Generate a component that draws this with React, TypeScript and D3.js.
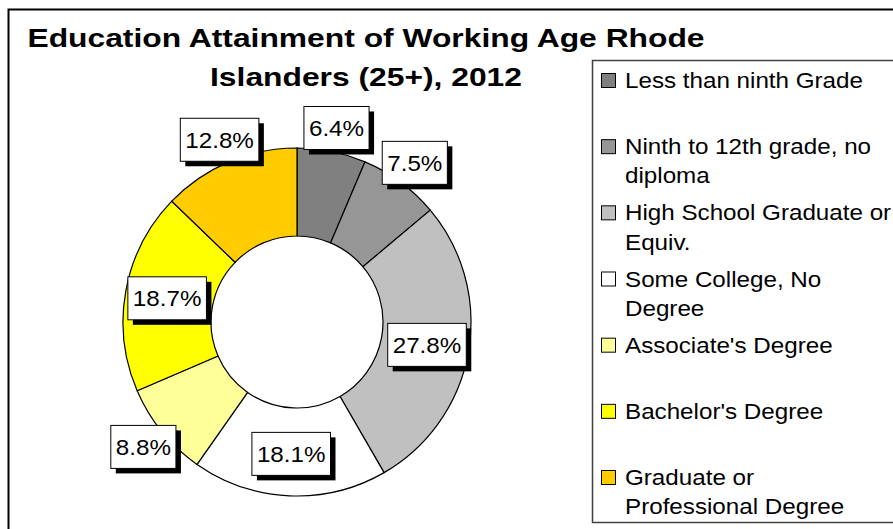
import { useRef, useEffect } from "react";
import * as d3 from "d3";

const categories = [
  "Less than ninth Grade",
  "Ninth to 12th grade, no diploma",
  "High School Graduate or Equiv.",
  "Some College, No Degree",
  "Associate's Degree",
  "Bachelor's Degree",
  "Graduate or Professional Degree",
];
const values = [6.4, 7.5, 27.8, 18.1, 8.8, 18.7, 12.8];
const colors = ["#808080", "#969696", "#C0C0C0", "#FFFFFF", "#FFFF99", "#FFFF00", "#FFCC00"];
const legendLines = [
  ["Less than ninth Grade"],
  ["Ninth to 12th grade, no", "diploma"],
  ["High School Graduate or", "Equiv."],
  ["Some College, No", "Degree"],
  ["Associate's Degree"],
  ["Bachelor's Degree"],
  ["Graduate or", "Professional Degree"],
];
const titleLines = ["Education Attainment of Working Age Rhode", "Islanders (25+), 2012"];

const FONT = "'Liberation Sans', Arial, sans-serif";
const SX = 1.1; // the original text is rendered a bit wide

export default function App() {
  const ref = useRef<SVGSVGElement | null>(null);

  useEffect(() => {
    const svg = d3.select(ref.current);
    svg.selectAll("*").remove();

    const width = 893;
    const height = 529;
    const cx = 297;
    const cy = 322;
    const outerR = 174;
    const innerR = 86;

    svg.append("rect").attr("width", width).attr("height", height).attr("fill", "#fff");

    // outer frame
    svg
      .append("rect")
      .attr("x", 8.5)
      .attr("y", 9.5)
      .attr("width", 900)
      .attr("height", 540)
      .attr("fill", "none")
      .attr("stroke", "#000")
      .attr("stroke-width", 2);

    // title
    titleLines.forEach((t, i) => {
      svg
        .append("text")
        .attr("transform", `translate(366,${i === 0 ? 47 : 86}) scale(1.2,1)`)
        .attr("text-anchor", "middle")
        .attr("font-family", FONT)
        .attr("font-weight", "bold")
        .attr("font-size", 26.5)
        .attr("fill", "#000")
        .text(t);
    });

    // donut
    const pie = d3
      .pie<number>()
      .sort(null)
      .value((d) => d);
    const arcs = pie(values);
    const arc = d3.arc<d3.PieArcDatum<number>>().innerRadius(innerR).outerRadius(outerR);

    const g = svg.append("g").attr("transform", `translate(${cx},${cy})`);
    g.selectAll("path")
      .data(arcs)
      .join("path")
      .attr("d", arc)
      .attr("fill", (_, i) => colors[i])
      .attr("stroke", "#000")
      .attr("stroke-width", 1.2);

    // data labels: big slices inside the ring, small ones just outside
    const fmt = d3.format(".1f");
    const labelR = (v: number) => (v >= 15 ? (innerR + outerR) / 2 + 2 : outerR + 24);
    arcs.forEach((a) => {
      const mid = (a.startAngle + a.endAngle) / 2;
      const r = labelR(a.data);
      const lx = Math.sin(mid) * r;
      const ly = -Math.cos(mid) * r;
      const lg = g.append("g").attr("transform", `translate(${lx},${ly})`);
      const shadow = lg.append("rect").attr("fill", "#000");
      const box = lg.append("rect").attr("fill", "#fff").attr("stroke", "#000").attr("stroke-width", 1);
      const txt = lg
        .append("text")
        .attr("transform", `scale(${SX},1)`)
        .attr("text-anchor", "middle")
        .attr("y", 8)
        .attr("font-family", FONT)
        .attr("font-size", 22)
        .attr("fill", "#000")
        .text(fmt(a.data) + "%");
      const tw = (txt.node() as SVGTextElement).getComputedTextLength() * SX;
      const bw = tw + 10;
      const bh = 43;
      box.attr("x", -bw / 2).attr("y", -bh / 2).attr("width", bw).attr("height", bh);
      shadow
        .attr("x", -bw / 2 + 5)
        .attr("y", -bh / 2 + 5)
        .attr("width", bw)
        .attr("height", bh);
      txt.raise();
    });

    // legend
    svg
      .append("rect")
      .attr("x", 592.5)
      .attr("y", 60.5)
      .attr("width", 320)
      .attr("height", 462)
      .attr("fill", "#fff")
      .attr("stroke", "#404040")
      .attr("stroke-width", 1.5);

    const ly = d3.scalePoint<string>().domain(categories).range([88, 485]);
    categories.forEach((c, i) => {
      const y = ly(c)!;
      svg
        .append("rect")
        .attr("x", 601.5)
        .attr("y", y - 14.5)
        .attr("width", 14)
        .attr("height", 14)
        .attr("fill", colors[i])
        .attr("stroke", "#000")
        .attr("stroke-width", 1);
      legendLines[i].forEach((line, j) => {
        svg
          .append("text")
          .attr("transform", `translate(625,${y + j * 29.3}) scale(${SX},1)`)
          .attr("font-family", FONT)
          .attr("font-size", 22)
          .attr("fill", "#000")
          .text(line);
      });
    });
  }, []);

  return (
    <svg
      ref={ref}
      width={893}
      height={529}
      style={{ position: "absolute", left: 0, top: 0, display: "block" }}
    ></svg>
  );
}
